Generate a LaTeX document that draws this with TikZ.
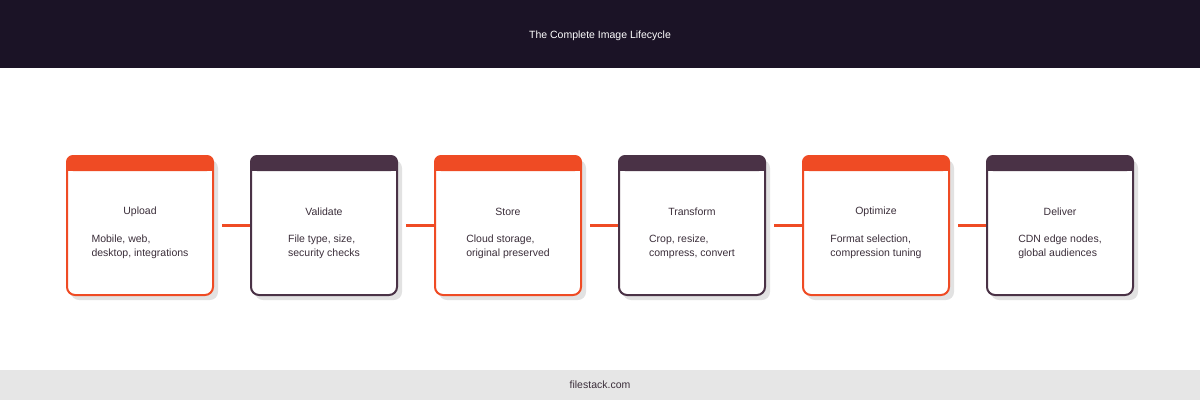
\documentclass[tikz,border=0pt]{standalone}
\usepackage{fontspec}
\setmainfont{Liberation Sans}
\definecolor{hdr}{HTML}{1B1326}
\definecolor{orng}{HTML}{EF4B24}
\definecolor{plum}{HTML}{4A3246}
\definecolor{txt}{HTML}{3B2E3A}
\definecolor{foot}{HTML}{E6E6E6}
\definecolor{shad}{HTML}{E2E2E2}
\begin{document}
\begin{tikzpicture}[x=1pt,y=-1pt,
  card/.style={draw=#1,line width=2pt,rounded corners=8pt,fill=white},
  ttl/.style={font=\fontsize{10.5}{12}\selectfont,text=txt},
  dsc/.style={font=\fontsize{10.5}{14}\selectfont,text=txt,align=left},
  link/.style={draw=orng,line width=3pt}]
\useasboundingbox (0,0) rectangle (1200,400);
\fill[hdr] (0,0) rectangle (1200,68);
\node[font=\fontsize{10.5}{12}\selectfont,text=white] (title) at (600,35.5) {The Complete Image Lifecycle};
\fill[foot] (0,370) rectangle (1200,400);
\node[font=\fontsize{10.5}{12}\selectfont,text=txt] (foottext) at (600,385) {filestack.com};
\foreach \i/\c/\t/\d in {0/orng/Upload/{Mobile, web,\\desktop, integrations},
  1/plum/Validate/{File type, size,\\security checks},
  2/orng/Store/{Cloud storage,\\original preserved},
  3/plum/Transform/{Crop, resize,\\compress, convert},
  4/orng/Optimize/{Format selection,\\compression tuning},
  5/plum/Deliver/{CDN edge nodes,\\global audiences}}{
  \pgfmathsetmacro{\xl}{67+184*\i}
  \fill[shad,rounded corners=8pt] (\xl+4,160) rectangle (\xl+151,300);
  \draw[card=\c] (\xl,156) rectangle (\xl+146,295);
  \fill[\c,rounded corners=7pt] (\xl-1,155) rectangle (\xl+147,171);
  \fill[\c] (\xl-1,163) rectangle (\xl+147,171);
  \coordinate (l\i) at (\xl-1,225);
  \coordinate (r\i) at (\xl+155,225);
  \node[ttl] (t\i) at (\xl+73,212) {\t};
  \node[dsc] (d\i) at (\xl+73,247) {\d};
}
\foreach \a/\b in {0/1,1/2,2/3,3/4,4/5}{
  \draw[link] (r\a) -- (l\b);
}
\end{tikzpicture}
\end{document}
